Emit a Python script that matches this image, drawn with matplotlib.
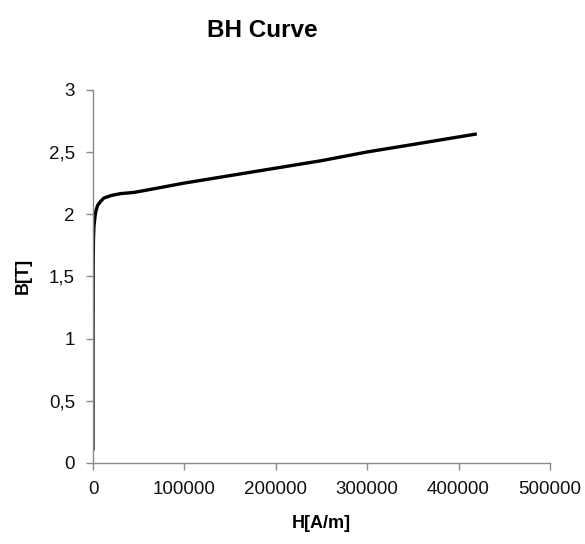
import matplotlib
matplotlib.use("Agg")
import matplotlib.pyplot as plt
from matplotlib.ticker import FuncFormatter

# BH curve
H = [0, 0, 200, 500, 1000, 2000, 3000, 5000, 8000, 12000, 20000, 30000,
     45000, 60000, 100000, 150000, 200000, 250000, 300000, 350000, 420000]
B = [0.1, 1.0, 1.6, 1.8, 1.9, 1.97, 2.02, 2.07, 2.10, 2.13, 2.15, 2.165,
     2.175, 2.195, 2.25, 2.31, 2.37, 2.43, 2.50, 2.56, 2.645]

x_ticks = [0, 100000, 200000, 300000, 400000, 500000]
y_ticks = [0, 0.5, 1, 1.5, 2, 2.5, 3]

plt.rcParams['font.family'] = ['Liberation Sans', 'DejaVu Sans']

fig = plt.figure(figsize=(5.85, 5.44), dpi=100)
ax = fig.add_axes([0.159, 0.149, 0.781, 0.686])

ax.plot(H, B, color="black", lw=2.4, solid_capstyle="butt")

ax.set_xlim(0, 500000)
ax.set_ylim(0, 3)
ax.set_xticks(x_ticks)
ax.set_yticks(y_ticks)
ax.yaxis.set_major_formatter(FuncFormatter(lambda v, p: ('%g' % v).replace('.', ',')))
ax.xaxis.set_major_formatter(FuncFormatter(lambda v, p: '%d' % v))

for s in ['top', 'right']:
    ax.spines[s].set_visible(False)
for s in ['left', 'bottom']:
    ax.spines[s].set_color('#8a8a8a')
    ax.spines[s].set_linewidth(1.0)
ax.tick_params(direction='out', length=5, width=1, color='#8a8a8a',
               labelsize=13.5, labelcolor='#111111', pad=8)

fig.text(0.448, 0.944, "BH Curve", fontsize=17.5, fontweight='bold',
         ha='center', va='center')
ax.set_xlabel("H[A/m]", fontsize=13, fontweight='bold', labelpad=12)
ax.set_ylabel("B[T]", fontsize=13, fontweight='bold', labelpad=12)

fig.savefig("out.png", dpi=100)
